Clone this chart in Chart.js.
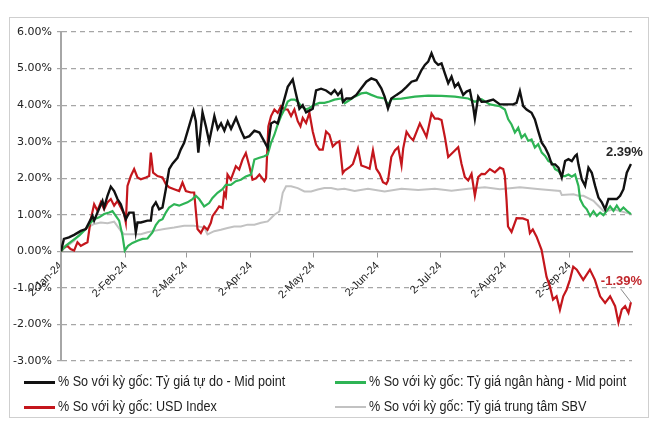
<!DOCTYPE html>
<html>
<head>
<meta charset="utf-8">
<script src="https://cdn.jsdelivr.net/npm/chart.js@4.4.1/dist/chart.umd.min.js"></script>
<style>
  body { margin: 0; background: #fff; }
  #wrap { position: relative; width: 654px; height: 429px; }
  #frame { position: absolute; left: 9px; top: 17px; width: 640px; height: 401px; border: 1px solid #cfcfcf; box-sizing: border-box; }
  canvas { position: absolute; left: 0; top: 0; }
  .leg { position: absolute; height: 16px; line-height: 16px; white-space: nowrap; font: 14px "Liberation Sans", Arial, sans-serif; color: #1e1e1e; }
  .leg i { display: inline-block; width: 31px; height: 3px; vertical-align: middle; }
  .leg span { display: inline-block; margin-left: 3px; transform: scaleX(0.9); transform-origin: 0 50%; }
</style>
</head>
<body>
<div id="wrap">
  <div id="frame"></div>
  <canvas id="chart" width="654" height="429"></canvas>
  <div class="leg" style="left:24px;top:373px"><i style="background:#111"></i><span>% So với kỳ gốc: Tỷ giá tự do - Mid point</span></div>
  <div class="leg" style="left:335px;top:373px"><i style="background:#2eb455"></i><span>% So với kỳ gốc: Tỷ giá ngân hàng - Mid point</span></div>
  <div class="leg" style="left:24px;top:398px"><i style="background:#c4161c"></i><span>% So với kỳ gốc: USD Index</span></div>
  <div class="leg" style="left:335px;top:398px"><i style="background:#c2c2c2;height:2px"></i><span>% So với kỳ gốc: Tỷ giá trung tâm SBV</span></div>
</div>
<script>
// trục X: số ngày kể từ 2-Jan-24
const tickDays   = [0, 31, 60, 91, 121, 152, 182, 213, 244];
const tickLabels = ['2-Jan-24','2-Feb-24','2-Mar-24','2-Apr-24','2-May-24','2-Jun-24','2-Jul-24','2-Aug-24','2-Sep-24'];
const yTicks     = [-3, -2, -1, 0, 1, 2, 3, 4, 5, 6];

// Tỷ giá tự do - Mid point
const blackDays = [0,1.4,3.8,6.3,9.5,11.9,15.1,15.9,17.5,19.9,20.7,22.3,23.9,25.5,27.1,28.7,30.3,31.1,32.7,34.8,35.9,36.7,38.3,41.5,43.1,43.9,45.5,47.1,48.7,50.3,51.9,53.5,55.9,57.5,59.1,61.5,63.6,64.7,65.9,67.9,69.6,71.1,73.6,75.2,76.8,78.4,80,81.6,84,86.4,88,90.4,92.8,95.2,97.6,99.2,100.8,102.4,104,106.4,108.8,111.2,112.8,114.4,116,117.6,119.2,120.8,122.4,124.8,127.2,129.6,131.3,132.9,134.5,135.3,136.9,139.3,141.7,144.1,146.5,148.9,151.3,153.7,155.3,156.9,158.5,161,163.4,165.8,168.2,170.6,173,174.6,176.2,177.8,179.4,181,182.6,184.2,185.8,187.4,189,190.6,193,194.6,196.2,197.8,198.6,200.2,201.8,204.2,207.4,210.6,213.8,217,218.6,220.2,221.8,223.4,225.8,227.4,229,230.7,232.3,233.9,235.5,237.1,238.7,240.3,241.9,243.5,245.1,246.7,247.5,248.3,249.9,251.5,253.1,254.7,256.3,257.9,259.5,261.1,262.7,264.3,266.7,268.3,269.9,271.5,273.5];
const blackVals = [0,0.34,0.38,0.45,0.56,0.61,0.97,0.84,1.06,1.38,1.2,1.52,1.77,1.65,1.43,1.29,1.02,0.88,1.06,1.06,0.52,0.79,0.79,0.84,0.84,1.2,1.34,1.15,1.2,1.7,2.25,2.4,2.56,2.79,2.97,3.43,3.84,3.56,2.7,3.8,3.4,3.0,3.7,3.35,3.5,3.3,3.55,3.35,3.65,3.3,3.1,3.15,3.3,3.25,3.0,2.83,3.5,3.55,3.5,4.0,4.5,4.7,4.3,3.9,4.0,3.8,3.85,3.9,4.4,4.45,4.4,4.3,4.41,4.28,4.4,4.09,4.18,4.18,4.28,4.46,4.64,4.73,4.68,4.46,4.23,3.91,4.18,4.28,4.37,4.5,4.64,4.68,4.96,5.1,5.19,5.42,5.19,5.1,5.14,4.87,4.6,4.78,4.5,4.6,4.28,4.37,4.41,3.95,3.63,4.23,4.09,4.1,4.15,4.02,4.02,4.02,4.06,4.38,3.97,3.88,3.79,3.61,3.29,2.97,2.84,2.65,2.38,2.38,2.29,2.02,2.47,2.52,2.47,2.61,2.65,2.38,1.97,1.79,2.29,2.15,1.79,1.47,1.34,1.15,1.43,1.43,1.43,1.52,1.7,2.15,2.39];

// Tỷ giá ngân hàng - Mid point
const greenDays = [0,2.2,5.5,8.7,11.9,14.3,15.9,18.3,20.7,23.1,24.7,26.3,27.9,29.5,30.6,32.2,34.3,36.7,39.1,41.5,43.9,45.5,47.1,48.7,50.3,51.9,54.3,56.7,58.3,60.7,63.1,64.7,66.3,68.7,71.1,72.7,75.1,77.5,79.1,81.5,83.9,86.3,88.7,91.2,92.8,95.2,97.6,99.2,100.8,102.4,104,105.6,107.2,108.8,110.4,112,113.6,115.2,117.6,119.2,121.6,124,126.4,128.8,131.2,134.5,136.1,138.5,140.9,144.1,146.5,148.9,152.1,155.3,156.9,158.5,163.4,169.8,176.2,182.6,189,195.4,198.6,201.8,205.8,210.6,213,214.6,216.2,217.8,219.4,221,222.6,224.2,225.8,227.4,229,230.7,232.3,233.9,235.5,237.1,238.7,240.3,241.9,243.5,245.1,246.7,248.3,249.1,250.7,252.3,253.9,255.5,257.1,258.7,260.3,261.9,263.5,265.1,266.7,268.3,269.9,271.5,273.5];
const greenVals = [0,0.15,0.29,0.43,0.61,0.79,0.88,0.93,1.02,1.06,1.1,0.97,0.84,0.43,0.02,0.15,0.23,0.29,0.34,0.35,0.52,0.72,0.84,0.88,1.06,1.2,1.29,1.25,1.29,1.34,1.43,1.52,1.43,1.23,1.32,1.46,1.6,1.7,1.82,1.82,1.92,1.96,2.05,2.1,2.51,2.56,2.6,2.65,2.97,3.19,3.47,3.7,3.88,4.1,4.15,4.15,4.1,3.97,3.88,3.92,4.01,4.06,4.06,4.1,4.15,4.18,4.05,4.14,4.23,4.32,4.34,4.28,4.21,4.18,4.0,4.16,4.18,4.23,4.26,4.25,4.23,4.18,4.09,4.16,4.02,3.97,3.88,3.61,3.47,3.25,3.38,3.11,3.2,3.02,3.06,2.84,2.93,2.7,2.61,2.47,2.43,2.25,2.2,2.06,2.06,2.1,2.04,2.1,1.79,1.43,1.25,1.15,0.97,1.1,0.97,1.06,0.99,1.11,1.23,1.11,1.25,1.11,1.2,1.11,1.02];

// USD Index
const redDays = [0,1.4,3.0,4.6,6.3,7.9,9.5,11.1,12.7,14.3,15.9,17.5,19.1,20.7,22.3,23.9,25.5,27.1,28.7,30.3,31.1,31.9,33.5,35.1,36.7,38.3,40.7,42.3,43.1,44.2,46.3,48.7,50.3,51.9,54.3,56.7,58.3,59.9,62.3,63.9,65.5,67.1,68.7,70.3,71.9,72.7,74.3,75.9,77.5,78.3,79.1,79.9,81.5,83.9,85.5,87.1,88.7,90.4,91.9,93.6,95.2,97.6,98.4,99.5,100.8,102.4,104,105.6,107.2,108.8,110.4,112,113.6,114.9,116,117.6,119.2,120.8,122.4,124,125.6,127.2,128.8,130.4,132,133.6,135.2,136.1,138.5,140.1,142.5,144.1,146.5,148.1,149.7,151.3,152.9,154.5,156.1,156.9,158.5,160.2,161.8,163.4,164.2,165.8,167.4,169,170.6,172.2,173.8,175.4,177.8,179.4,181,182.6,184.2,185.8,187.4,189,190.6,192.2,193.8,195.4,197,198.6,200.2,201.8,203.4,205.8,208.2,210.6,212.2,213,213.8,214.5,216.2,218.6,221.6,224,225,226.4,228.2,230.6,233,234.6,236.1,237.8,239.4,241,242.6,244.2,245.8,247.5,250.6,253.8,256.2,258.7,261.1,263.5,265.9,267.5,269.1,270.7,272.3,273.5];
const redVals = [0,0.1,0.15,0.06,0.02,0.25,0.15,0.2,0.25,0.88,1.29,1.11,1.34,1.15,1.34,1.43,1.25,1.38,1.2,1.02,0.79,1.79,2.06,2.25,2.02,1.97,2.02,2.06,2.7,2.15,2.06,2.02,1.84,1.75,1.7,1.65,1.88,1.65,1.61,1.61,0.61,0.5,0.68,0.59,0.78,0.96,1.09,1.23,1.19,1.6,1.5,2.1,1.96,2.33,2.24,2.51,2.69,2.33,1.96,2.0,2.1,1.92,2.0,3.42,3.7,3.88,3.79,3.97,3.88,3.88,3.7,3.88,3.56,3.42,3.65,3.51,3.79,3.28,2.92,2.78,2.78,3.28,3.19,2.87,2.96,3.01,2.14,2.21,2.3,2.39,2.81,2.35,2.3,2.26,2.76,2.26,2.12,1.89,1.84,1.93,2.58,2.76,2.85,2.35,2.81,3.27,3.13,3.04,3.27,3.5,3.32,3.13,3.77,3.63,3.63,3.59,3.13,2.58,2.67,2.76,2.85,2.39,2.03,1.94,2.12,1.52,2.03,2.12,2.11,2.25,2.16,2.29,2.25,2.06,1.4,0.68,0.53,0.91,0.9,0.85,0.5,0.6,0.4,0.04,-0.7,-0.96,-1.32,-1.23,-1.6,-1.23,-1.05,-0.78,-0.42,-0.5,-0.78,-0.5,-0.78,-1.23,-1.41,-1.23,-1.5,-1.95,-1.59,-1.5,-1.68,-1.39];

// Tỷ giá trung tâm SBV
const grayDays = [0,3,6.3,9.5,12.7,15.9,19.1,22.3,25.5,28.7,30.3,33.5,38.3,41.5,44.7,49.5,54.3,59.1,63.9,68.8,70.3,73.5,76.7,79.9,83.1,86.3,89.5,92.8,96,99.2,102.4,104.8,106.4,108,110.4,113.6,116.8,120,123.2,126.4,129.6,132.8,136,140.9,147.3,155.3,163.4,171.4,179.4,187.4,195.4,203.4,210.6,220.2,229.9,239.5,240.3,245.9,248.3,250.7,253.9,255.5,257.1,258.7,260.3,262,265.1,268.3,273.5];
const grayVals = [0,0.15,0.29,0.52,0.65,0.75,0.79,0.77,0.81,0.56,0.47,0.47,0.47,0.52,0.56,0.61,0.65,0.7,0.7,0.65,0.46,0.55,0.59,0.64,0.68,0.68,0.73,0.73,0.78,0.82,1.0,1.09,1.6,1.78,1.78,1.73,1.64,1.64,1.69,1.73,1.73,1.69,1.71,1.65,1.71,1.64,1.71,1.68,1.71,1.66,1.71,1.75,1.7,1.75,1.7,1.65,1.54,1.56,1.52,1.52,1.43,1.38,1.29,1.2,1.1,1.1,1.15,1.1,1.02];

const zip = (xs, ys) => xs.map((x, i) => ({ x, y: ys[i] }));
const FONT = '"Liberation Sans", Arial, sans-serif';

// nhãn giá trị cuối kỳ
const endLabels = {
  id: 'endLabels',
  afterDatasetsDraw(chart) {
    const ctx = chart.ctx;
    const bl = chart.getDatasetMeta(0).data;
    const rd = chart.getDatasetMeta(2).data;
    const pb = bl[bl.length - 1], pr = rd[rd.length - 1];
    ctx.save();
    ctx.font = 'bold 13px ' + FONT;
    ctx.textAlign = 'center';
    ctx.textBaseline = 'middle';
    ctx.fillStyle = '#262626';
    ctx.fillText('2.39%', pb.x - 6.5, pb.y - 11.5);
    ctx.fillStyle = '#c0282d';
    ctx.fillText('-1.39%', pr.x - 9.5, pr.y - 21);
    ctx.strokeStyle = '#8a8a8a';
    ctx.lineWidth = 1;
    ctx.beginPath();
    ctx.moveTo(pr.x - 10, pr.y - 13);
    ctx.lineTo(pr.x, pr.y);
    ctx.stroke();
    ctx.restore();
  }
};

new Chart(document.getElementById('chart'), {
  type: 'line',
  data: {
    datasets: [
      { label: 'Tự do', data: zip(blackDays, blackVals), borderColor: '#111', borderWidth: 2.4 },
      { label: 'Ngân hàng', data: zip(greenDays, greenVals), borderColor: '#2eb455', borderWidth: 2.2 },
      { label: 'USD Index', data: zip(redDays, redVals), borderColor: '#c4161c', borderWidth: 2.2 },
      { label: 'SBV', data: zip(grayDays, grayVals), borderColor: '#c2c2c2', borderWidth: 2 },
    ],
  },
  options: {
    responsive: false, animation: false,
    layout: { padding: { left: 8, right: 22, top: 32, bottom: 68 } },
    elements: { point: { radius: 0 }, line: { tension: 0 } },
    plugins: { legend: { display: false }, tooltip: { enabled: false } },
    scales: {
      x: {
        type: 'linear', min: 0, max: 274,
        position: { y: 0 },
        afterFit: s => { s.height = 0; },
        afterBuildTicks: s => { s.ticks = tickDays.map(v => ({ value: v })); },
        ticks: {
          autoSkip: false, minRotation: 45, maxRotation: 45, padding: 3,
          font: { family: FONT, size: 11 }, color: '#222',
          callback: v => tickLabels[tickDays.indexOf(v)],
        },
        grid: { drawOnChartArea: false, drawTicks: true, tickLength: 5, color: '#9a9a9a' },
        border: { display: true, color: '#9a9a9a', width: 1.5 },
      },
      y: {
        min: -3, max: 6,
        afterFit: s => { s.width = 53; },
        afterBuildTicks: s => { s.ticks = yTicks.map(v => ({ value: v })); },
        ticks: {
          padding: 5, font: { family: '"DejaVu Sans", sans-serif', size: 11 }, color: '#222',
          callback: v => v.toFixed(2) + '%',
        },
        grid: {
          color: c => (c.tick && c.tick.value === 0) ? 'rgba(0,0,0,0)' : '#a6a6a6',
          lineWidth: 1.2, tickLength: 4, tickColor: '#a6a6a6',
        },
        border: { display: true, color: '#a6a6a6', width: 2, dash: [5, 4] },
      },
    },
  },
  plugins: [endLabels],
});
</script>
</body>
</html>
